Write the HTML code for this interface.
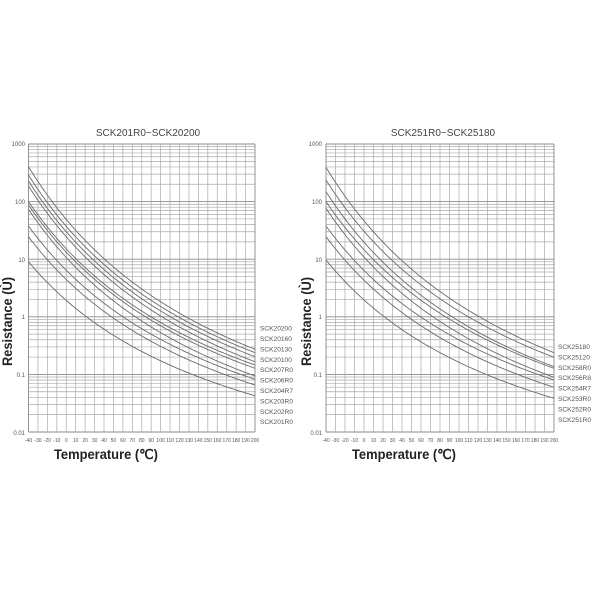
<!DOCTYPE html>
<html><head><meta charset="utf-8"><style>
html,body{margin:0;padding:0;background:#fff;width:600px;height:600px;overflow:hidden}
svg{display:block}
text{font-family:"Liberation Sans",sans-serif;fill:#333}
.t{font-size:10px;fill:#444}
.yl{font-size:6px;fill:#555}
.xl{font-size:5px;fill:#555}
.lg{font-size:6.6px;fill:#555}
.ax{font-size:14px;fill:#222;font-weight:bold}
</style></head><body>
<svg id="s" width="600" height="600" viewBox="0 0 600 600" xmlns="http://www.w3.org/2000/svg">
<g id="g"></g>
<text class="t" x="148" y="136" text-anchor="middle">SCK201R0~SCK20200</text>
<text class="t" x="443" y="136" text-anchor="middle">SCK251R0~SCK25180</text>

<g text-anchor="end">
<text class="yl" x="25" y="146">1000</text>
<text class="yl" x="25" y="204">100</text>
<text class="yl" x="25" y="262">10</text>
<text class="yl" x="25" y="319">1</text>
<text class="yl" x="25" y="377">0.1</text>
<text class="yl" x="25" y="435">0.01</text>
<text class="yl" x="322" y="146">1000</text>
<text class="yl" x="322" y="204">100</text>
<text class="yl" x="322" y="262">10</text>
<text class="yl" x="322" y="319">1</text>
<text class="yl" x="322" y="377">0.1</text>
<text class="yl" x="322" y="435">0.01</text>
</g>

<g text-anchor="middle">
<text class="xl" x="28.5" y="442">-40</text><text class="xl" x="37.9" y="442">-30</text><text class="xl" x="47.4" y="442">-20</text><text class="xl" x="56.8" y="442">-10</text><text class="xl" x="66.3" y="442">0</text><text class="xl" x="75.7" y="442">10</text><text class="xl" x="85.1" y="442">20</text><text class="xl" x="94.6" y="442">30</text><text class="xl" x="104.0" y="442">40</text><text class="xl" x="113.4" y="442">50</text><text class="xl" x="122.9" y="442">60</text><text class="xl" x="132.3" y="442">70</text><text class="xl" x="141.8" y="442">80</text><text class="xl" x="151.2" y="442">90</text><text class="xl" x="160.6" y="442">100</text><text class="xl" x="170.1" y="442">110</text><text class="xl" x="179.5" y="442">120</text><text class="xl" x="188.9" y="442">130</text><text class="xl" x="198.4" y="442">140</text><text class="xl" x="207.8" y="442">150</text><text class="xl" x="217.3" y="442">160</text><text class="xl" x="226.7" y="442">170</text><text class="xl" x="236.1" y="442">180</text><text class="xl" x="245.6" y="442">190</text><text class="xl" x="255.0" y="442">200</text>
<text class="xl" x="326.0" y="442">-40</text><text class="xl" x="335.5" y="442">-30</text><text class="xl" x="345.0" y="442">-20</text><text class="xl" x="354.5" y="442">-10</text><text class="xl" x="364.0" y="442">0</text><text class="xl" x="373.5" y="442">10</text><text class="xl" x="383.0" y="442">20</text><text class="xl" x="392.5" y="442">30</text><text class="xl" x="402.0" y="442">40</text><text class="xl" x="411.5" y="442">50</text><text class="xl" x="421.0" y="442">60</text><text class="xl" x="430.5" y="442">70</text><text class="xl" x="440.0" y="442">80</text><text class="xl" x="449.5" y="442">90</text><text class="xl" x="459.0" y="442">100</text><text class="xl" x="468.5" y="442">110</text><text class="xl" x="478.0" y="442">120</text><text class="xl" x="487.5" y="442">130</text><text class="xl" x="497.0" y="442">140</text><text class="xl" x="506.5" y="442">150</text><text class="xl" x="516.0" y="442">160</text><text class="xl" x="525.5" y="442">170</text><text class="xl" x="535.0" y="442">180</text><text class="xl" x="544.5" y="442">190</text><text class="xl" x="554.0" y="442">200</text>
</g>

<text class="lg" x="260" y="330.6">SCK20200</text>
<text class="lg" x="260" y="341">SCK20160</text>
<text class="lg" x="260" y="351.4">SCK20130</text>
<text class="lg" x="260" y="361.8">SCK20100</text>
<text class="lg" x="260" y="372.2">SCK207R0</text>
<text class="lg" x="260" y="382.6">SCK206R0</text>
<text class="lg" x="260" y="393">SCK204R7</text>
<text class="lg" x="260" y="403.4">SCK203R0</text>
<text class="lg" x="260" y="413.8">SCK202R0</text>
<text class="lg" x="260" y="424.2">SCK201R0</text>

<text class="lg" x="558" y="349">SCK25180</text>
<text class="lg" x="558" y="359.4">SCK25120</text>
<text class="lg" x="558" y="369.8">SCK258R0</text>
<text class="lg" x="558" y="380.2">SCK256R8</text>
<text class="lg" x="558" y="390.6">SCK254R7</text>
<text class="lg" x="558" y="401">SCK253R0</text>
<text class="lg" x="558" y="411.4">SCK252R0</text>
<text class="lg" x="558" y="421.8">SCK251R0</text>

<text class="ax" x="54" y="459" textLength="104" lengthAdjust="spacingAndGlyphs">Temperature (℃)</text>
<text class="ax" x="352" y="459" textLength="104" lengthAdjust="spacingAndGlyphs">Temperature (℃)</text>
<text class="ax" transform="translate(12,366) rotate(-90)" textLength="89" lengthAdjust="spacingAndGlyphs">Resistance (Ù)</text>
<text class="ax" transform="translate(311,366) rotate(-90)" textLength="89" lengthAdjust="spacingAndGlyphs">Resistance (Ù)</text>
</svg>
<script>
(function(){
var NS="http://www.w3.org/2000/svg",g=document.getElementById("g");
function ln(x1,y1,x2,y2,c,w){var l=document.createElementNS(NS,"line");l.setAttribute("x1",x1);l.setAttribute("y1",y1);l.setAttribute("x2",x2);l.setAttribute("y2",y2);l.setAttribute("stroke",c);l.setAttribute("stroke-width",w);g.appendChild(l);}
var top=144,bot=432,dec=57.6;
function yOf(lv){return top+(3-lv)*dec;}
function plot(x0,x1,curves){
  for(var d=-2;d<3;d++){for(var k=1;k<=9;k++){var lv=d+Math.log10(k);var y=yOf(lv);ln(x0,y,x1,y,k==1?"#8a8a8a":"#aaa",k==1?0.9:0.7);}}
  ln(x0,top,x1,top,"#8a8a8a",0.9);
  for(var i=0;i<=24;i++){var x=x0+i*(x1-x0)/24;ln(x,top,x,bot,(i==0||i==24)?"#888":"#aaa",(i==0||i==24)?0.9:0.7);}
  var u0=1/233.15,u1=1/473.15;
  curves.forEach(function(c){
    var s=c[0],e=c[1],p="";
    for(var T=-40;T<=200;T+=2){var u=1/(T+273.15);var lv=s+(e-s)*(u0-u)/(u0-u1);var x=x0+(T+40)/240*(x1-x0);var y=yOf(lv);
      p+=(T==-40?"M":"L")+x.toFixed(2)+" "+y.toFixed(2);}
    var pa=document.createElementNS(NS,"path");pa.setAttribute("d",p);pa.setAttribute("fill","none");pa.setAttribute("stroke","#6a6a6a");pa.setAttribute("stroke-width","0.9");g.appendChild(pa);
  });
}
plot(28.5,255,[[2.606,-0.564],[2.462,-0.623],[2.358,-0.693],[2.271,-0.78],[2.0,-0.837],[1.941,-0.894],[1.866,-1.028],[1.576,-1.085],[1.391,-1.184],[0.957,-1.37]]);
plot(326,554,[[2.595,-0.623],[2.375,-0.703],[2.172,-0.866],[2.0,-0.894],[1.884,-1.05],[1.576,-1.097],[1.391,-1.224],[0.986,-1.415]]);
})();
</script>
</body></html>
